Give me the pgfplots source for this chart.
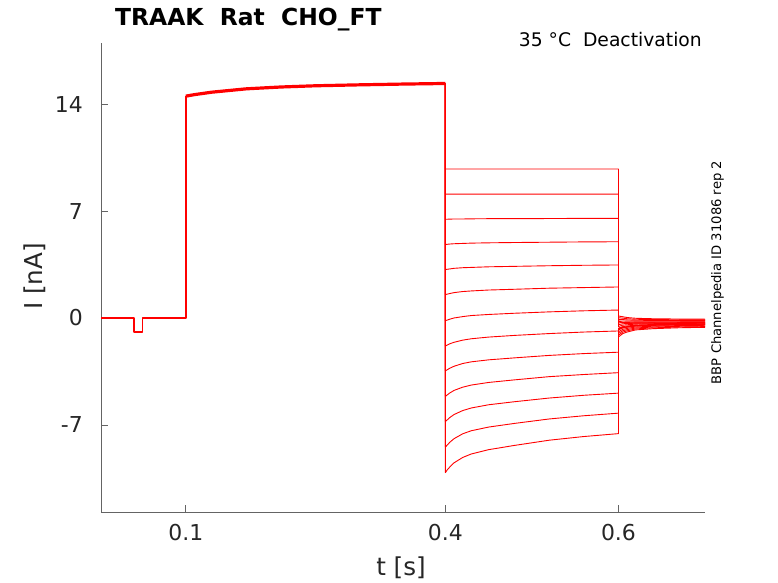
\documentclass[border=0pt]{standalone}
\usepackage{pgfplots}
\pgfplotsset{compat=1.18}
\usepackage{fontspec}
\setmainfont{DejaVu Sans}
\definecolor{axgray}{RGB}{100,100,100}
\definecolor{txtgray}{RGB}{38,38,38}
\begin{document}
\begin{tikzpicture}
\path[use as bounding box] (0bp,0bp) rectangle (778bp,583bp);
\begin{axis}[
  at={(101bp,71bp)}, anchor=south west,
  scale only axis, width=604bp, height=469bp,
  xmin=0.002, xmax=0.7, ymin=-12.7, ymax=18,
  axis x line*=bottom, axis y line*=left,
  axis line style={axgray, line width=0.7bp, -},
  tick style={axgray, line width=0.7bp},
  tick align=inside, major tick length=6.5bp,
  xtick={0.1,0.4,0.6}, xticklabels={0.1,0.4,0.6},
  ytick={-7,0,7,14}, yticklabels={-7,0,7,14},
  x tick label style={font=\fontsize{22}{26}\selectfont, text=txtgray, inner sep=0pt, anchor=north, yshift=-12bp},
  y tick label style={font=\fontsize{22}{26}\selectfont, text=txtgray, inner sep=0pt, anchor=east, xshift=-18bp},
  every axis plot/.append style={red, line join=round},
]
% step traces (0.4 -> 0.6) with tails (0.6 -> 0.7)
\addplot[line width=0.9bp] coordinates {(0.4,15.35)(0.4,9.75)(0.6,9.75)(0.6,0.13)(0.605,0.08)(0.61,0.03)(0.62,-0.02)(0.64,-0.05)(0.67,-0.07)(0.7,-0.08)};
\addplot[line width=0.9bp] coordinates {(0.4,15.35)(0.4,8.11)(0.6,8.11)(0.6,0.016)(0.605,-0.012)(0.61,-0.049)(0.62,-0.083)(0.64,-0.104)(0.67,-0.118)(0.7,-0.124)};
\addplot[line width=0.9bp] coordinates {(0.4,15.35)(0.4,6.46)(0.405,6.47)(0.41,6.48)(0.42,6.48)(0.43,6.49)(0.45,6.50)(0.48,6.50)(0.52,6.51)(0.56,6.52)(0.6,6.52)(0.6,-0.098)(0.605,-0.103)(0.61,-0.128)(0.62,-0.147)(0.64,-0.158)(0.67,-0.165)(0.7,-0.168)};
\addplot[line width=0.9bp] coordinates {(0.4,15.35)(0.4,4.81)(0.405,4.84)(0.41,4.86)(0.42,4.88)(0.43,4.90)(0.45,4.92)(0.48,4.94)(0.52,4.96)(0.56,4.98)(0.6,4.99)(0.6,-0.21)(0.605,-0.195)(0.61,-0.21)(0.62,-0.21)(0.64,-0.21)(0.67,-0.21)(0.7,-0.21)};
\addplot[line width=0.9bp] coordinates {(0.4,15.35)(0.4,3.17)(0.405,3.21)(0.41,3.25)(0.42,3.29)(0.43,3.31)(0.45,3.35)(0.48,3.38)(0.52,3.42)(0.56,3.45)(0.6,3.47)(0.6,-0.327)(0.605,-0.287)(0.61,-0.287)(0.62,-0.273)(0.64,-0.267)(0.67,-0.26)(0.7,-0.257)};
\addplot[line width=0.9bp] coordinates {(0.4,15.35)(0.4,1.53)(0.405,1.60)(0.41,1.66)(0.42,1.73)(0.43,1.77)(0.45,1.83)(0.48,1.88)(0.52,1.95)(0.56,1.99)(0.6,2.03)(0.6,-0.441)(0.605,-0.378)(0.61,-0.366)(0.62,-0.337)(0.64,-0.321)(0.67,-0.308)(0.7,-0.301)};
\addplot[line width=0.9bp] coordinates {(0.4,15.35)(0.4,-0.18)(0.405,-0.08)(0.41,0.00)(0.42,0.09)(0.43,0.16)(0.45,0.23)(0.48,0.31)(0.52,0.40)(0.56,0.47)(0.6,0.52)(0.6,-0.555)(0.605,-0.47)(0.61,-0.445)(0.62,-0.40)(0.64,-0.375)(0.67,-0.355)(0.7,-0.345)};
\addplot[line width=0.9bp] coordinates {(0.4,15.35)(0.4,-1.83)(0.405,-1.69)(0.41,-1.59)(0.42,-1.45)(0.43,-1.36)(0.45,-1.25)(0.48,-1.14)(0.52,-1.02)(0.56,-0.92)(0.6,-0.85)(0.6,-0.669)(0.605,-0.562)(0.61,-0.524)(0.62,-0.463)(0.64,-0.429)(0.67,-0.403)(0.7,-0.389)};
\addplot[line width=0.9bp] coordinates {(0.4,15.35)(0.4,-3.46)(0.405,-3.29)(0.41,-3.16)(0.42,-2.98)(0.43,-2.87)(0.45,-2.74)(0.48,-2.61)(0.52,-2.45)(0.56,-2.33)(0.6,-2.24)(0.6,-0.783)(0.605,-0.653)(0.61,-0.603)(0.62,-0.527)(0.64,-0.483)(0.67,-0.45)(0.7,-0.433)};
\addplot[line width=0.9bp] coordinates {(0.4,15.35)(0.4,-5.13)(0.405,-4.91)(0.41,-4.74)(0.42,-4.53)(0.43,-4.39)(0.45,-4.22)(0.48,-4.05)(0.52,-3.84)(0.56,-3.70)(0.6,-3.58)(0.6,-0.898)(0.605,-0.745)(0.61,-0.683)(0.62,-0.59)(0.64,-0.538)(0.67,-0.498)(0.7,-0.478)};
\addplot[line width=0.9bp] coordinates {(0.4,15.35)(0.4,-6.78)(0.405,-6.52)(0.41,-6.32)(0.42,-6.06)(0.43,-5.89)(0.45,-5.68)(0.48,-5.48)(0.52,-5.24)(0.56,-5.06)(0.6,-4.92)(0.6,-1.012)(0.605,-0.837)(0.61,-0.762)(0.62,-0.653)(0.64,-0.592)(0.67,-0.545)(0.7,-0.522)};
\addplot[line width=0.9bp] coordinates {(0.4,15.35)(0.4,-8.45)(0.405,-8.14)(0.41,-7.90)(0.42,-7.58)(0.43,-7.38)(0.45,-7.14)(0.48,-6.90)(0.52,-6.61)(0.56,-6.40)(0.6,-6.23)(0.6,-1.126)(0.605,-0.928)(0.61,-0.841)(0.62,-0.717)(0.64,-0.646)(0.67,-0.593)(0.7,-0.566)};
\addplot[line width=0.9bp] coordinates {(0.4,15.35)(0.4,-10.12)(0.402,-9.95)(0.405,-9.76)(0.41,-9.48)(0.42,-9.13)(0.43,-8.90)(0.45,-8.62)(0.48,-8.34)(0.52,-8.00)(0.56,-7.76)(0.6,-7.57)(0.6,-1.24)(0.605,-1.02)(0.61,-0.92)(0.62,-0.78)(0.64,-0.70)(0.67,-0.64)(0.7,-0.61)};
% tail fan fill lines (denser look)
\addplot[line width=1.4bp] coordinates {(0.6,-0.21)(0.605,-0.30)(0.61,-0.33)(0.62,-0.33)(0.64,-0.33)(0.67,-0.33)(0.7,-0.33)};
\addplot[line width=1.4bp] coordinates {(0.6,-0.7)(0.605,-0.62)(0.61,-0.58)(0.62,-0.50)(0.64,-0.46)(0.67,-0.43)(0.7,-0.41)};
% common holding + prepulse
\addplot[line width=1.8bp] coordinates {(0.002,0)(0.04,0)(0.04,-0.94)(0.05,-0.94)(0.05,0)(0.1,0)(0.1,14.5)};
\addplot[line width=3.2bp] coordinates {(0.1,14.52)(0.11,14.62)(0.13,14.78)(0.17,15.0)(0.21,15.12)(0.25,15.2)(0.3,15.26)(0.35,15.31)(0.4,15.35)};
\addplot[line width=1.8bp] coordinates {(0.4,15.35)(0.4,-10.1)};
\end{axis}
\node[anchor=base west, inner sep=0pt, font=\bfseries\fontsize{23.5}{28}\selectfont] at (115bp,557bp) {TRAAK\ \ Rat\ \ CHO\_FT};
\node[anchor=base east, inner sep=0pt, font=\fontsize{18.8}{22}\selectfont] at (702bp,536bp) {35 °C\ \ Deactivation};
\node[anchor=base, rotate=90, inner sep=0pt, font=\fontsize{13.2}{16}\selectfont] at (721bp,310.5bp) {BBP Channelpedia ID 31086 rep 2};
\node[anchor=base, rotate=90, inner sep=0pt, text=txtgray, font=\fontsize{24.7}{29}\selectfont] at (42bp,306.5bp) {I [nA]};
\node[anchor=base, inner sep=0pt, text=txtgray, font=\fontsize{24.7}{29}\selectfont] at (401bp,8bp) {t [s]};
\end{tikzpicture}
\end{document}
